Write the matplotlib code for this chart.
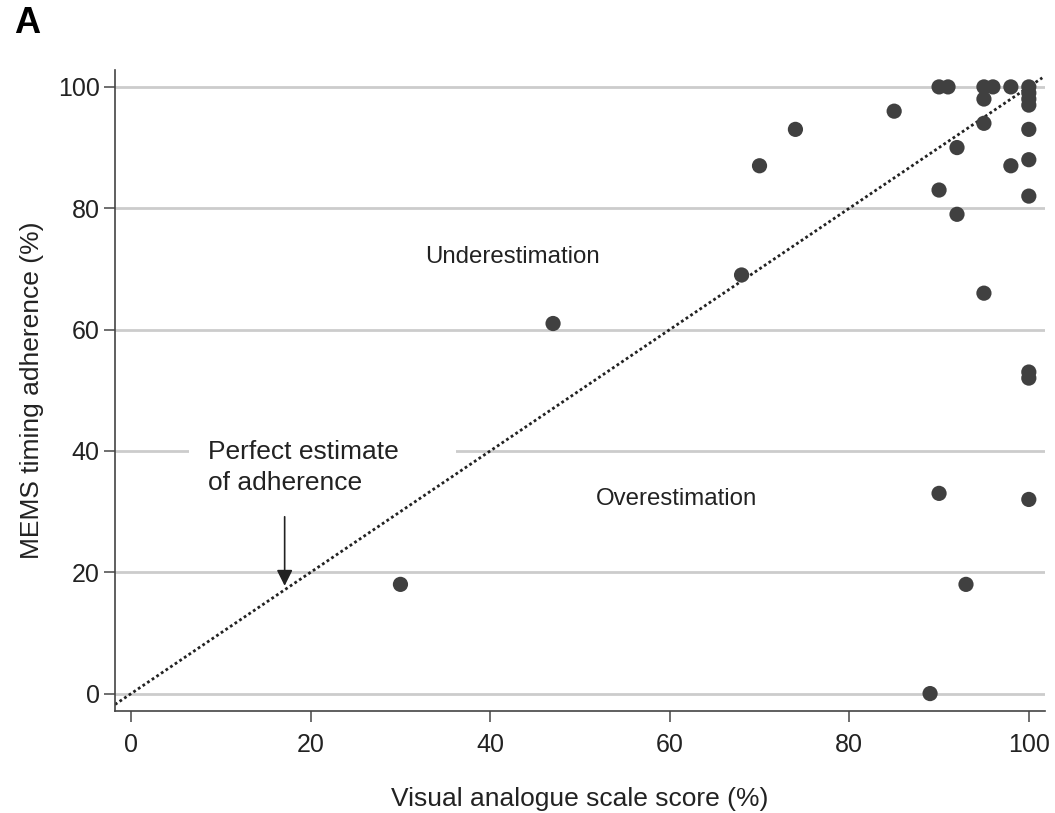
import matplotlib
matplotlib.use('Agg')
import matplotlib.pyplot as plt

plt.rcParams['font.family'] = ['Liberation Sans', 'DejaVu Sans']

# Visual analogue scale score (%) vs MEMS timing adherence (%)
vas_score = [30, 47, 68, 70, 74, 85,
             90, 91, 95, 96, 98, 100, 100, 100, 100,
             95, 95, 92, 90, 92, 98, 100, 100, 100,
             95, 100, 100, 90, 100, 93, 89]
mems_adherence = [18, 61, 69, 87, 93, 96,
                  100, 100, 100, 100, 100, 100, 99, 98, 97,
                  98, 94, 90, 83, 79, 87, 93, 88, 82,
                  66, 53, 52, 33, 32, 18, 0]

ticks = [0, 20, 40, 60, 80, 100]
identity = [-1.8, 101.5]

fig = plt.figure(figsize=(10.55, 8.13), dpi=100)
ax = fig.add_axes([0.109, 0.126, 0.8815, 0.788])

for t in ticks:
    ax.axhline(t, color='#cccccc', linewidth=2, zorder=0)

ax.plot(identity, identity, linestyle=(0, (1, 1)), color='#222222',
        linewidth=2, zorder=2)
ax.scatter(vas_score, mems_adherence, s=120, color='#404040',
           edgecolors='none', zorder=3)

ax.text(42.5, 72, 'Underestimation', fontsize=17.3, ha='center',
        va='center', color='#222222')
ax.text(60.7, 32, 'Overestimation', fontsize=17.3, ha='center',
        va='center', color='#222222')
ax.text(8.6, 41.8, 'Perfect estimate     \nof adherence', fontsize=19,
        ha='left', va='top', color='#222222', linespacing=1.35,
        bbox=dict(boxstyle='square,pad=0.75', facecolor='white',
                  edgecolor='none'), zorder=1)
ax.annotate('', xy=(17.1, 17.3), xytext=(17.1, 29.6),
            arrowprops=dict(arrowstyle='-|>', color='#222222', lw=1.2,
                            mutation_scale=24), zorder=4)

ax.set_xlim(-1.8, 101.8)
ax.set_ylim(-2.8, 102.8)
ax.set_xticks(ticks)
ax.set_yticks(ticks)
ax.tick_params(labelsize=18, length=8, width=1.2, color='#555555',
               labelcolor='#222222')
ax.tick_params(axis='x', pad=8)
ax.tick_params(axis='y', pad=3)
for side in ['top', 'right']:
    ax.spines[side].set_visible(False)
for side in ['left', 'bottom']:
    ax.spines[side].set_color('#444444')
    ax.spines[side].set_linewidth(1.2)

ax.set_xlabel('Visual analogue scale score (%)', fontsize=19,
              color='#222222', labelpad=22)
ax.set_ylabel('MEMS timing adherence (%)', fontsize=19, color='#222222',
              labelpad=10)

fig.text(0.013, 0.971, 'A', fontsize=26, fontweight='bold', ha='left',
         va='center')

plt.savefig('out.png', dpi=100)
